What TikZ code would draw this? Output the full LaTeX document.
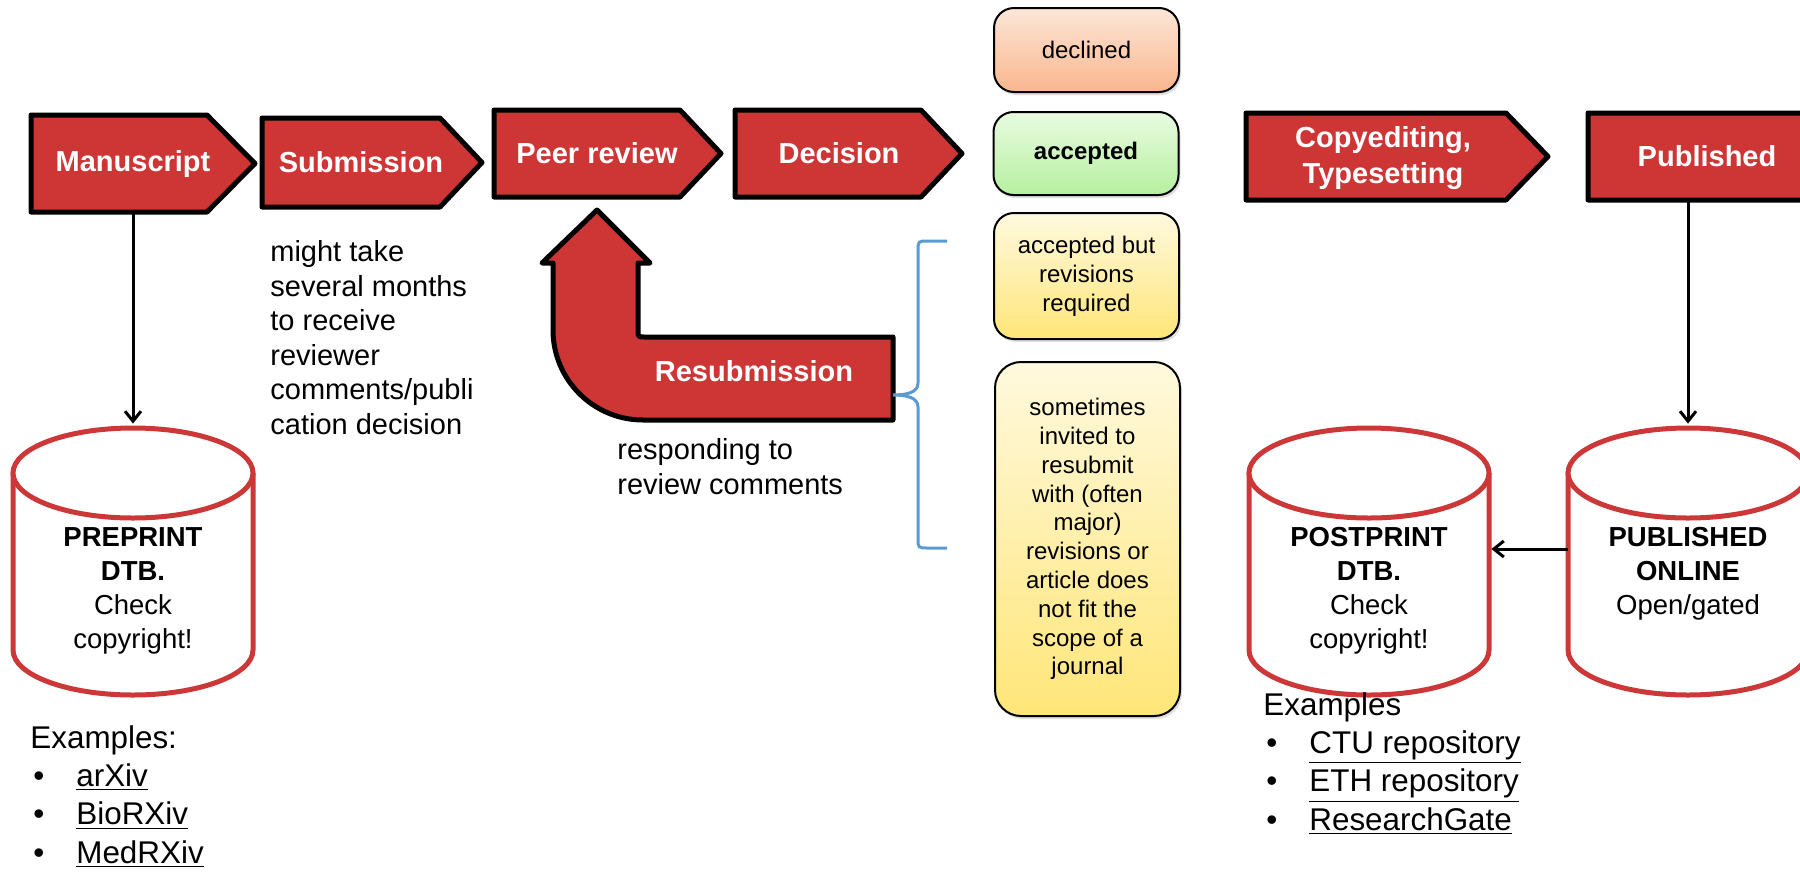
\documentclass[tikz,border=0pt]{standalone}
\usepackage{fontspec}
\setmainfont{Liberation Sans}
\usetikzlibrary{arrows.meta,shadows}
\definecolor{stagered}{RGB}{206,54,54}
\definecolor{dbred}{RGB}{204,56,56}
\definecolor{bracketblue}{RGB}{91,155,213}
\definecolor{declinedtop}{RGB}{253,230,215}
\definecolor{declinedbot}{RGB}{250,182,142}
\definecolor{acceptedtop}{RGB}{232,251,224}
\definecolor{acceptedbot}{RGB}{182,240,160}
\definecolor{revisetop}{RGB}{255,249,222}
\definecolor{revisebot}{RGB}{255,230,120}

\begin{document}
\begin{tikzpicture}[x=0.5pt,y=0.5pt,
    stage/.style={draw=black,line width=2.5pt,fill=stagered,line join=round},
    stagetext/.style={text=white,font=\fontsize{14.5}{18}\selectfont\bfseries,
    inner sep=0pt,align=center},
    outcome/.style={draw=black,line width=1pt,rounded corners=10pt,
    minimum width=92.5pt,align=center,font=\fontsize{12}{14.4}\selectfont,
    drop shadow={shadow xshift=1pt,shadow yshift=-1.5pt,opacity=0.25}},
    declinedfill/.style={top color=declinedtop,bottom color=declinedbot},
    acceptedfill/.style={top color=acceptedtop,bottom color=acceptedbot},
    revisefill/.style={top color=revisetop,bottom color=revisebot},
    dbline/.style={draw=dbred,line width=2.5pt,fill=white},
    dbframe/.style={inner sep=0pt,minimum width=120pt,minimum height=133.5pt},
    dbtext/.style={inner sep=0pt,align=center,anchor=north,
    font=\fontsize{13.75}{17}\selectfont},
    note/.style={inner sep=0pt,align=left,anchor=north west,
    font=\fontsize{14.5}{17.3}\selectfont},
    listtext/.style={inner sep=0pt,align=left,anchor=north west,
    font=\fontsize{15.7}{19.2}\selectfont},
    bracket/.style={draw=bracketblue,line width=1.5pt},
    link/.style={line width=1.5pt,-{Straight Barb[length=5pt,width=8pt]}}]
\useasboundingbox (0,0) rectangle (1800,-873);

% stages along the top
\draw[stage] (31,-115) -- (207,-115) -- (255,-163.5) -- (207,-212) -- (31,-212) -- cycle;
\draw[stage] (262,-118) -- (440,-118) -- (482,-162.5) -- (440,-207) -- (262,-207) -- cycle;
\draw[stage] (494,-110) -- (680,-110) -- (721,-153.5) -- (680,-197) -- (494,-197) -- cycle;
\draw[stage] (735,-110) -- (921,-110) -- (962,-153.5) -- (921,-197) -- (735,-197) -- cycle;
\draw[stage] (1246,-113) -- (1506,-113) -- (1548,-156.5) -- (1506,-200) -- (1246,-200) -- cycle;
\draw[stage] (1588,-113) -- (1830,-113) -- (1872,-156.5) -- (1830,-200) -- (1588,-200) -- cycle;
\node[stagetext,minimum height=48.5pt] (manu) at (133,-163.5) {Manuscript};
\node[stagetext] (submit) at (361,-162.5) {Submission};
\node[stagetext] (review) at (597,-153.5) {Peer review};
\node[stagetext] (decide) at (839,-153.5) {Decision};
\node[stagetext] (copyedit) at (1383,-158) {Copyediting,\\Typesetting};
\node[stagetext,minimum height=43.5pt] (pub) at (1707,-156.5) {Published};

% resubmission loop
\draw[stage] (597,-210) -- (650,-263) -- (638,-263) -- (638,-330)
    .. controls (638,-337) .. (645,-337) -- (893,-337) -- (893,-420) -- (643,-420)
    arc (270:180:90) -- (553,-263) -- (542,-263) -- cycle;
\node[stagetext] (resub) at (754,-371) {Resubmission};
\draw[bracket] (947,-241) -- (928,-241) .. controls (918,-241) .. (918,-251) -- (918,-383)
    .. controls (918,-392) and (908,-395) .. (893,-395)
    .. controls (908,-395) and (918,-398) .. (918,-407) -- (918,-538)
    .. controls (918,-548) .. (928,-548) -- (947,-548);

% decisions
\node[outcome,declinedfill,minimum height=42pt] (declined) at (1086.5,-50) {declined};
\node[outcome,acceptedfill,minimum height=41.5pt,font=\fontsize{12}{14.4}\selectfont\bfseries] (accepted) at (1086,-153.5) {accepted};
\node[outcome,revisefill,minimum height=63pt] (revise) at (1086.5,-276) {accepted but\\revisions\\required};
\node[outcome,revisefill,minimum height=177pt,rounded corners=13pt] (resubmit) at (1087.5,-539) {sometimes\\invited to\\resubmit\\with (often\\major)\\revisions or\\article does\\not fit the\\scope of a\\journal};

% notes
\node[note] (delay) at (270,-240) {might take\\several months\\to receive\\reviewer\\comments/publi\\cation decision};
\node[note] (respond) at (617,-438) {responding to\\review comments};

% databases
\draw[dbline] (13,-473) -- (13,-650) arc (180:360:120 and 45) -- (253,-473);
\draw[dbline] (133,-473) ellipse (120 and 45);
\node[dbframe] (preprint) at (133,-561.5) {};
\node[dbtext] (preprintTxt) at (133,-527) {\textbf{PREPRINT}\\\textbf{DTB.}\\Check\\copyright!};

\draw[dbline] (1249,-473) -- (1249,-650) arc (180:360:120 and 45) -- (1489,-473);
\draw[dbline] (1369,-473) ellipse (120 and 45);
\node[dbframe] (postprint) at (1369,-561.5) {};
\node[dbtext] (postprintTxt) at (1369,-527) {\textbf{POSTPRINT}\\\textbf{DTB.}\\Check\\copyright!};

\draw[dbline] (1568,-473) -- (1568,-650) arc (180:360:120 and 45) -- (1808,-473);
\draw[dbline] (1688,-473) ellipse (120 and 45);
\node[dbframe] (online) at (1688,-561.5) {};
\node[dbtext] (onlineTxt) at (1688,-527) {\textbf{PUBLISHED}\\\textbf{ONLINE}\\Open/gated};

\draw[link,shorten >=2pt] (manu.south) -- (preprint.north);
\draw[link,shorten >=2pt] (online.north |- pub.south) -- (online.north);
\draw[link,shorten >=1pt] ([yshift=6.25pt]online.west) -- ([yshift=6.25pt]postprint.east);

% examples
\node[listtext] (preEx) at (30,-725) {Examples:\\
    \makebox[23pt][l]{\hspace{1.5pt}\textbullet}\underline{arXiv}\\
    \makebox[23pt][l]{\hspace{1.5pt}\textbullet}\underline{BioRXiv}\\
    \makebox[23pt][l]{\hspace{1.5pt}\textbullet}\underline{MedRXiv}};
\node[listtext] (postEx) at (1263,-692) {Examples\\
    \makebox[23pt][l]{\hspace{1.5pt}\textbullet}\underline{CTU repository}\\
    \makebox[23pt][l]{\hspace{1.5pt}\textbullet}\underline{ETH repository}\\
    \makebox[23pt][l]{\hspace{1.5pt}\textbullet}\underline{ResearchGate}};
\end{tikzpicture}
\end{document}
